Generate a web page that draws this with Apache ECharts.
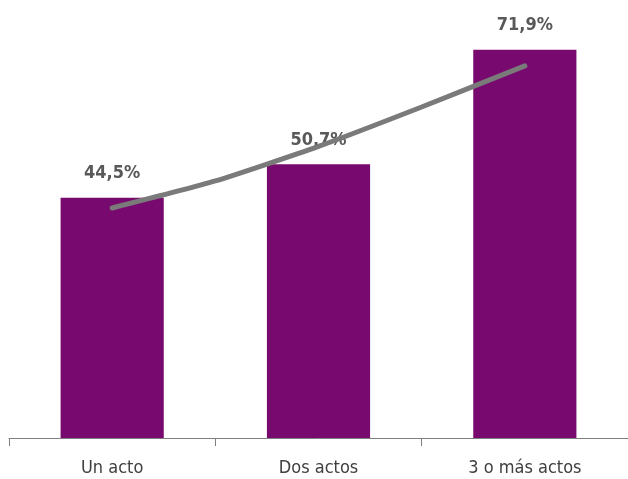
<!doctype html>
<html>
<head>
    <meta charset="utf-8">
    <title>Actos</title>
    <script src="https://cdn.jsdelivr.net/npm/echarts@6/dist/echarts.min.js"></script>
    <style>
        html, body { margin: 0; padding: 0; background: #fff; }
        #Chart { width: 628px; height: 479px; }
    </style>
</head>
<body>
    <div id="Chart"></div>
<script>
    var categories = ['Un acto', 'Dos actos', '3 o más actos'];
    var values = [44.5, 50.7, 71.9];
    // trend line (x in category units, 1 = first bar)
    var trendX = [1, 1.5, 2, 2.5, 3];
    var trendY = [42.6, 47.6, 54.0, 61.3, 68.9];

    function BuildChart() {
        var myChart = echarts.init(document.getElementById('Chart'));
        var trendData = [];
        for (var i = 0; i < trendX.length; i++) {
            trendData.push([trendX[i], trendY[i]]);
        }
        var option = {
            animation: false,
            grid: { left: 9, right: -2, top: 6, bottom: 41 },
            xAxis: [{
                type: 'category',
                data: categories,
                axisLine: { lineStyle: { color: '#7f7f7f', width: 1 } },
                axisTick: { show: true, length: 8, lineStyle: { color: '#7f7f7f' } },
                axisLabel: {
                    margin: 21,
                    fontSize: 18,
                    color: '#404040',
                    fontFamily: 'DejaVu Sans Condensed'
                }
            }, {
                type: 'value',
                min: 0.5,
                max: 3.5,
                show: false
            }],
            yAxis: {
                type: 'value',
                min: 0,
                max: 80,
                show: false,
                splitLine: { show: false }
            },
            series: [{
                type: 'bar',
                data: values,
                barWidth: '50%',
                itemStyle: { color: '#780A6F' },
                label: {
                    show: true,
                    position: 'top',
                    distance: 15,
                    fontSize: 18,
                    fontWeight: 'bold',
                    color: '#595959',
                    fontFamily: 'DejaVu Sans Condensed',
                    formatter: function (p) {
                        return p.value.toFixed(1).replace('.', ',') + '%';
                    }
                }
            }, {
                type: 'line',
                xAxisIndex: 1,
                data: trendData,
                symbol: 'none',
                smooth: 0.2,
                lineStyle: { color: '#7a7a7a', width: 5, cap: 'round' },
                z: 3
            }]
        };
        myChart.setOption(option);
    }

    BuildChart();
</script>
</body>
</html>
